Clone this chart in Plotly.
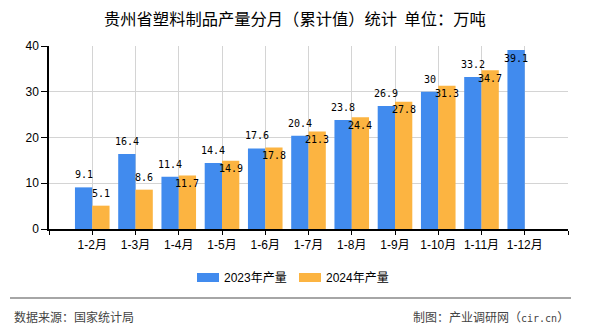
import plotly.graph_objects as go

# ---- data ----
categories = ["1-2月", "1-3月", "1-4月", "1-5月", "1-6月", "1-7月", "1-8月",
              "1-9月", "1-10月", "1-11月", "1-12月"]
values_2023 = [9.1, 16.4, 11.4, 14.4, 17.6, 20.4, 23.8, 26.9, 30, 33.2, 39.1]
values_2024 = [5.1, 8.6, 11.7, 14.9, 17.8, 21.3, 24.4, 27.8, 31.3, 34.7, None]
series_names = ["2023年产量", "2024年产量"]
y_ticks = [0, 10, 20, 30, 40]

# ---- layout constants (pixels) ----
W, H = 590, 330
L, R, T, B = 49, 568, 46, 229
BLUE = "#418BEE"
ORANGE = "#FCB441"
BAR_W = 0.4
Y_MAX = 40

def px_x(px):
    return (px - L) / (R - L)

def px_y(py):
    return (B - py) / (B - T)

xpos = list(range(1, len(categories) + 1))
fig = go.Figure()
fig.add_trace(go.Bar(x=xpos, y=values_2023, name=series_names[0],
                     marker=dict(color=BLUE, line=dict(width=0)),
                     width=BAR_W, offset=-BAR_W, hoverinfo="skip"))
fig.add_trace(go.Bar(x=xpos, y=values_2024, name=series_names[1],
                     marker=dict(color=ORANGE, line=dict(width=0)),
                     width=BAR_W, offset=0, hoverinfo="skip"))

px_per_unit = (B - T) / Y_MAX
label_font = dict(family="DejaVu Sans Mono", size=10, color="#000")
annotations = []
for i, (x, a, b) in enumerate(zip(xpos, values_2023, values_2024)):
    # 2023 label
    shift = 12.5
    if (B - a * px_per_unit) - 12.5 - 6 < T:
        shift = -8
    annotations.append(dict(x=x - BAR_W / 2, y=a, xref="x", yref="y",
                            text=f"{a:g}", showarrow=False, yshift=shift,
                            yanchor="middle", font=label_font))
    if b is not None:
        shift_b = 12.5 if b < a else -8
        annotations.append(dict(x=x + BAR_W / 2, y=b, xref="x", yref="y",
                                text=f"{b:g}", showarrow=False, yshift=shift_b,
                                yanchor="middle", font=label_font))

# title
annotations.append(dict(x=px_x(295), y=px_y(18), xref="paper", yref="paper",
                        text="贵州省塑料制品产量分月（累计值）统计&nbsp;&nbsp;单位：万吨",
                        showarrow=False, xanchor="center", yanchor="middle",
                        font=dict(family="Noto Sans CJK SC", size=16.3, color="#000")))
# legend (manual)
shapes = []
leg_font = dict(family="Liberation Sans, Noto Sans CJK SC", size=12, color="#000")
for name, col, sx in [(series_names[0], BLUE, 197), (series_names[1], ORANGE, 299)]:
    shapes.append(dict(type="rect", xref="paper", yref="paper",
                       x0=px_x(sx), x1=px_x(sx + 22), y0=px_y(282), y1=px_y(273),
                       fillcolor=col, line=dict(width=0)))
    annotations.append(dict(x=px_x(sx + 25), y=px_y(277.5), xref="paper", yref="paper",
                            text=name, showarrow=False, xanchor="left", yanchor="middle",
                            font=leg_font))
# separator line
shapes.append(dict(type="line", xref="paper", yref="paper",
                   x0=px_x(10), x1=px_x(571), y0=px_y(298), y1=px_y(298),
                   line=dict(color="#888888", width=1.5)))
foot_font = dict(family="Noto Sans CJK SC", size=12, color="#444")
annotations.append(dict(x=px_x(12), y=px_y(316), xref="paper", yref="paper",
                        text="数据来源：国家统计局", showarrow=False,
                        xanchor="left", yanchor="middle", font=foot_font))
annotations.append(dict(x=px_x(571), y=px_y(316), xref="paper", yref="paper",
                        text="制图：产业调研网（<span style=\"font-family:'DejaVu Sans Mono';font-size:10px\">cir.cn</span>）",
                        showarrow=False,
                        xanchor="right", yanchor="middle", font=foot_font))

tick_font = dict(family="Liberation Sans, Noto Sans CJK SC", size=12, color="#000")
fig.update_layout(
    width=W, height=H,
    margin=dict(l=L, r=W - R, t=T, b=H - B),
    paper_bgcolor="white", plot_bgcolor="white",
    barmode="overlay", showlegend=False,
    annotations=annotations, shapes=shapes,
    xaxis=dict(range=[0, len(categories) + 1],
               tickmode="array",
               tickvals=[0] + xpos + [len(categories) + 1],
               ticktext=[""] + categories + [""],
               showgrid=True, gridcolor="#d4d4d4", gridwidth=1,
               showline=True, linecolor="#000", linewidth=1.5,
               ticks="outside", ticklen=4, tickcolor="#000",
               tickfont=tick_font, zeroline=False, fixedrange=True),
    yaxis=dict(range=[0, Y_MAX], tickmode="array", tickvals=y_ticks,
               showgrid=True, gridcolor="#d4d4d4", gridwidth=1,
               showline=True, linecolor="#000", linewidth=1.5,
               ticks="outside", ticklen=6, tickcolor="#000",
               tickfont=tick_font, zeroline=False, fixedrange=True),
)

fig.write_html("out.html", config={"displayModeBar": False})
